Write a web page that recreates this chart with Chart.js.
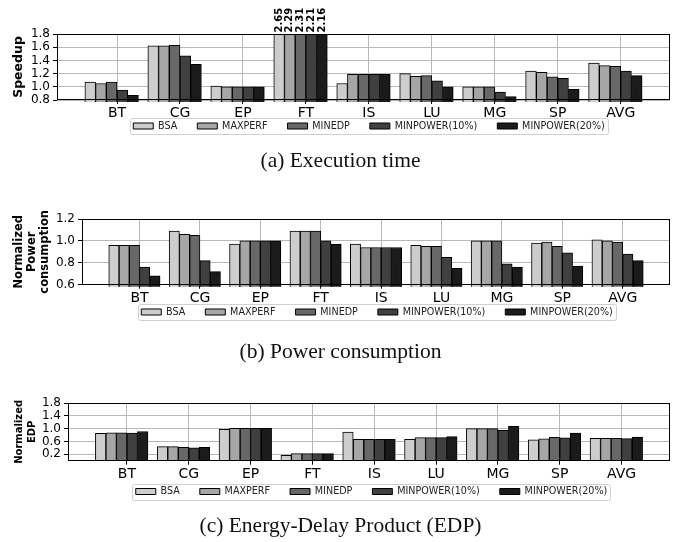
<!DOCTYPE html>
<html><head><meta charset="utf-8">
<script src="https://cdn.jsdelivr.net/npm/chart.js@4"></script>
<style>
html,body{margin:0;padding:0;background:#fff;}
body{width:681px;height:542px;position:relative;overflow:hidden;}
canvas{position:absolute;left:0;}
.cap{position:absolute;left:0;width:681px;text-align:center;font-family:"Liberation Serif","DejaVu Serif",serif;font-size:21.5px;line-height:24px;color:#111;}
</style></head><body>
<canvas id="c1"></canvas>
<div class="cap" style="top:148px">(a) Execution time</div>
<canvas id="c2"></canvas>
<div class="cap" style="top:339px">(b) Power consumption</div>
<canvas id="c3"></canvas>
<div class="cap" style="top:513px">(c) Energy-Delay Product (EDP)</div>
<script>
// ---------------- data ----------------
const categories = ['BT','CG','EP','FT','IS','LU','MG','SP','AVG'];
const seriesNames = ['BSA','MAXPERF','MINEDP','MINPOWER(10%)','MINPOWER(20%)'];

const speedupBSA        = [1.07,1.62,1.01,2.65,1.05,1.20,1.00,1.24,1.36];
const speedupMAXPERF    = [1.05,1.62,1.00,2.29,1.19,1.16,1.00,1.22,1.32];
const speedupMINEDP     = [1.07,1.63,1.00,2.31,1.19,1.17,1.00,1.15,1.31];
const speedupMINPOWER10 = [0.95,1.47,1.00,2.21,1.19,1.09,0.92,1.13,1.24];
const speedupMINPOWER20 = [0.87,1.34,1.00,2.16,1.19,1.00,0.85,0.96,1.17];

const powerBSA        = [0.96,1.09,0.97,1.09,0.97,0.96,1.00,0.98,1.01];
const powerMAXPERF    = [0.96,1.06,1.00,1.09,0.94,0.95,1.00,0.99,1.00];
const powerMINEDP     = [0.96,1.05,1.00,1.09,0.94,0.95,1.00,0.95,0.99];
const powerMINPOWER10 = [0.76,0.82,1.00,1.00,0.94,0.85,0.79,0.89,0.88];
const powerMINPOWER20 = [0.68,0.72,1.00,0.97,0.94,0.75,0.76,0.77,0.82];

const edpBSA        = [0.85,0.44,0.98,0.17,0.89,0.67,1.00,0.65,0.70];
const edpMAXPERF    = [0.87,0.44,1.01,0.22,0.67,0.72,1.00,0.68,0.70];
const edpMINEDP     = [0.87,0.42,1.01,0.22,0.67,0.72,1.00,0.73,0.70];
const edpMINPOWER10 = [0.86,0.40,1.01,0.22,0.67,0.72,0.95,0.71,0.69];
const edpMINPOWER20 = [0.91,0.42,1.01,0.22,0.67,0.75,1.07,0.86,0.74];

const speedupTicks = [0.8,1.0,1.2,1.4,1.6,1.8];
const powerTicks   = [0.6,0.8,1.0,1.2];
const edpTicks     = [0.2,0.6,1.0,1.4,1.8];

// ---------------- style / layout ----------------
const COLORS = ['#cdcdcd','#a6a6a6','#686868','#404040','#1b1b1b'];
const BAR_W = 0.17;
const X_MIN = -0.953, X_MAX = 8.783;
const FONT = '"DejaVu Sans", sans-serif';
const CANVAS_H = 150;
const LEGEND_FONT = 9.6, LEGEND_PAD = 20;
const X_AXIS_H = 19;

const overlayPlugin = {
  id: 'overlay',
  afterLayout(chart) {
    const lg = chart.legend;
    if (!lg || chart.$legendTop === undefined) return;
    const dy = chart.$legendTop - lg.top;
    lg.top += dy; lg.bottom += dy;
    const dx = chart.$legendDx || 0;
    lg.left += dx; lg.right += dx;
  },
  afterDatasetsDraw(chart) {
    const ctx = chart.ctx, area = chart.chartArea, ys = chart.scales.y;
    ctx.save();
    ctx.font = 'bold 10px ' + FONT;
    ctx.fillStyle = '#000';
    ctx.textAlign = 'left';
    ctx.textBaseline = 'middle';
    chart.data.datasets.forEach((ds, di) => {
      const meta = chart.getDatasetMeta(di);
      ds.data.forEach((pt, i) => {
        if (pt.y > ys.max) {
          const el = meta.data[i];
          ctx.save();
          ctx.translate(el.x, area.top - 1.5);
          ctx.rotate(-Math.PI / 2);
          ctx.fillText(pt.y.toFixed(2), 0, 0);
          ctx.restore();
        }
      });
    });
    ctx.strokeStyle = '#000';
    ctx.lineWidth = 1;
    const l = Math.round(area.left) + 0.5, t = Math.round(area.top) + 0.5;
    const r = Math.round(area.right) - 0.5, b = Math.round(area.bottom) - 0.5;
    ctx.strokeRect(l, t, r - l, b - t);
    ctx.restore();
  },
  afterDraw(chart) {
    const hb = chart.legend && chart.legend.legendHitBoxes;
    if (!hb || !hb.length) return;
    const ctx = chart.ctx;
    const l = Math.min(...hb.map(h => h.left)) - 3.5;
    const r = Math.max(...hb.map(h => h.left + h.width)) + 3.5;
    const t = hb[0].top - 3.2, b = hb[0].top + hb[0].height + 3.2;
    ctx.save();
    ctx.strokeStyle = '#d0d0d0';
    ctx.lineWidth = 1;
    ctx.beginPath();
    ctx.roundRect(Math.round(l) + 0.5, Math.round(t) + 0.5, Math.round(r - l), Math.round(b - t), 2);
    ctx.stroke();
    ctx.restore();
  }
};

function makeChart(id, cfg) {
  const canvas = document.getElementById(id);
  canvas.width = 681; canvas.height = CANVAS_H;
  canvas.style.top = cfg.top + 'px';
  const plotTop = cfg.plotTop - cfg.top, plotBottom = cfg.plotBottom - cfg.top;
  const legendH = LEGEND_FONT + LEGEND_PAD + 10;
  const padBottom = CANVAS_H - plotBottom - X_AXIS_H - legendH;

  const datasets = cfg.series.map((vals, k) => ({
    label: seriesNames[k],
    data: vals.map((v, i) => ({ x: i + (k - 2.5) * BAR_W, y: v })),
    backgroundColor: COLORS[k],
    borderColor: '#000',
    borderWidth: 1,
    borderSkipped: false,
    grouped: false,
    barPercentage: 1,
    categoryPercentage: 1,
    clip: { left: 2, right: 2, top: 0, bottom: 2 }
  }));

  return new Chart(canvas, {
    type: 'bar',
    data: { datasets },
    plugins: [overlayPlugin],
    options: {
      responsive: false,
      animation: false,
      devicePixelRatio: 1,
      layout: { padding: { top: plotTop, right: 11, bottom: padBottom, left: 0 } },
      plugins: {
        tooltip: { enabled: false },
        legend: {
          position: 'bottom',
          fullSize: false,
          align: 'center',
          labels: {
            boxWidth: 20, boxHeight: 6, padding: LEGEND_PAD,
            color: '#222',
            font: { size: LEGEND_FONT, family: FONT }
          }
        }
      },
      scales: {
        x: {
          type: 'linear',
          min: X_MIN, max: X_MAX,
          offset: false,
          grid: { offset: false, color: '#b8b8b8', lineWidth: 1, tickLength: 4, tickColor: '#000' },
          border: { display: false },
          ticks: {
            autoSkip: false, maxRotation: 0, padding: 1, color: '#000',
            font: { size: 14, family: FONT },
            callback: v => categories[v] !== undefined ? categories[v] : ''
          },
          afterBuildTicks: s => { s.ticks = categories.map((c, i) => ({ value: i })); },
          afterFit: s => { s.height = X_AXIS_H; }
        },
        y: {
          type: 'linear',
          min: cfg.yMin, max: cfg.yMax,
          grid: { color: '#b8b8b8', lineWidth: 1, tickLength: 4, tickColor: '#000' },
          border: { display: false },
          ticks: {
            autoSkip: false, padding: 3, color: '#000',
            font: { size: 12, family: FONT },
            callback: v => Number(v).toFixed(1)
          },
          title: {
            display: true, text: cfg.yTitle, color: '#000',
            font: { size: cfg.titleSize, weight: 'bold', family: FONT, lineHeight: cfg.titleLH },
            padding: { top: cfg.titlePad, bottom: 0 }
          },
          afterBuildTicks: s => { s.ticks = cfg.yTicks.map(v => ({ value: v })); },
          afterFit: s => { s.width = cfg.left; }
        }
      }
    }
  });
}

function build(id, cfg) {
  // legend placed so that its items are centred at cfg.legendCenter
  const c = makeChart(id, cfg);
  c.$legendTop = cfg.legendCenter - cfg.top - LEGEND_FONT / 2 - LEGEND_PAD;
  c.$legendDx = cfg.legendDx;
  c.update('none');
}

build('c1', {
  top: 0, plotTop: 34, plotBottom: 100, left: 57, legendCenter: 126, legendDx: 5.5,
  series: [speedupBSA, speedupMAXPERF, speedupMINEDP, speedupMINPOWER10, speedupMINPOWER20],
  yMin: 0.8, yMax: 1.8, yTicks: speedupTicks,
  yTitle: 'Speedup', titleSize: 12.5, titleLH: 1.2, titlePad: 11.5
});
build('c2', {
  top: 185, plotTop: 219, plotBottom: 284.7, left: 82, legendCenter: 312, legendDx: 1,
  series: [powerBSA, powerMAXPERF, powerMINEDP, powerMINPOWER10, powerMINPOWER20],
  yMin: 0.6, yMax: 1.2, yTicks: powerTicks,
  yTitle: ['Normalized', 'Power', 'consumption'], titleSize: 11.5, titleLH: 1.13, titlePad: 12.5
});
build('c3', {
  top: 370, plotTop: 403, plotBottom: 460.7, left: 68, legendCenter: 491.5, legendDx: 2.5,
  series: [edpBSA, edpMAXPERF, edpMINEDP, edpMINPOWER10, edpMINPOWER20],
  yMin: 0, yMax: 1.8, yTicks: edpTicks,
  yTitle: ['Normalized', 'EDP'], titleSize: 10, titleLH: 1.35, titlePad: 12.25
});
</script>
</body></html>
